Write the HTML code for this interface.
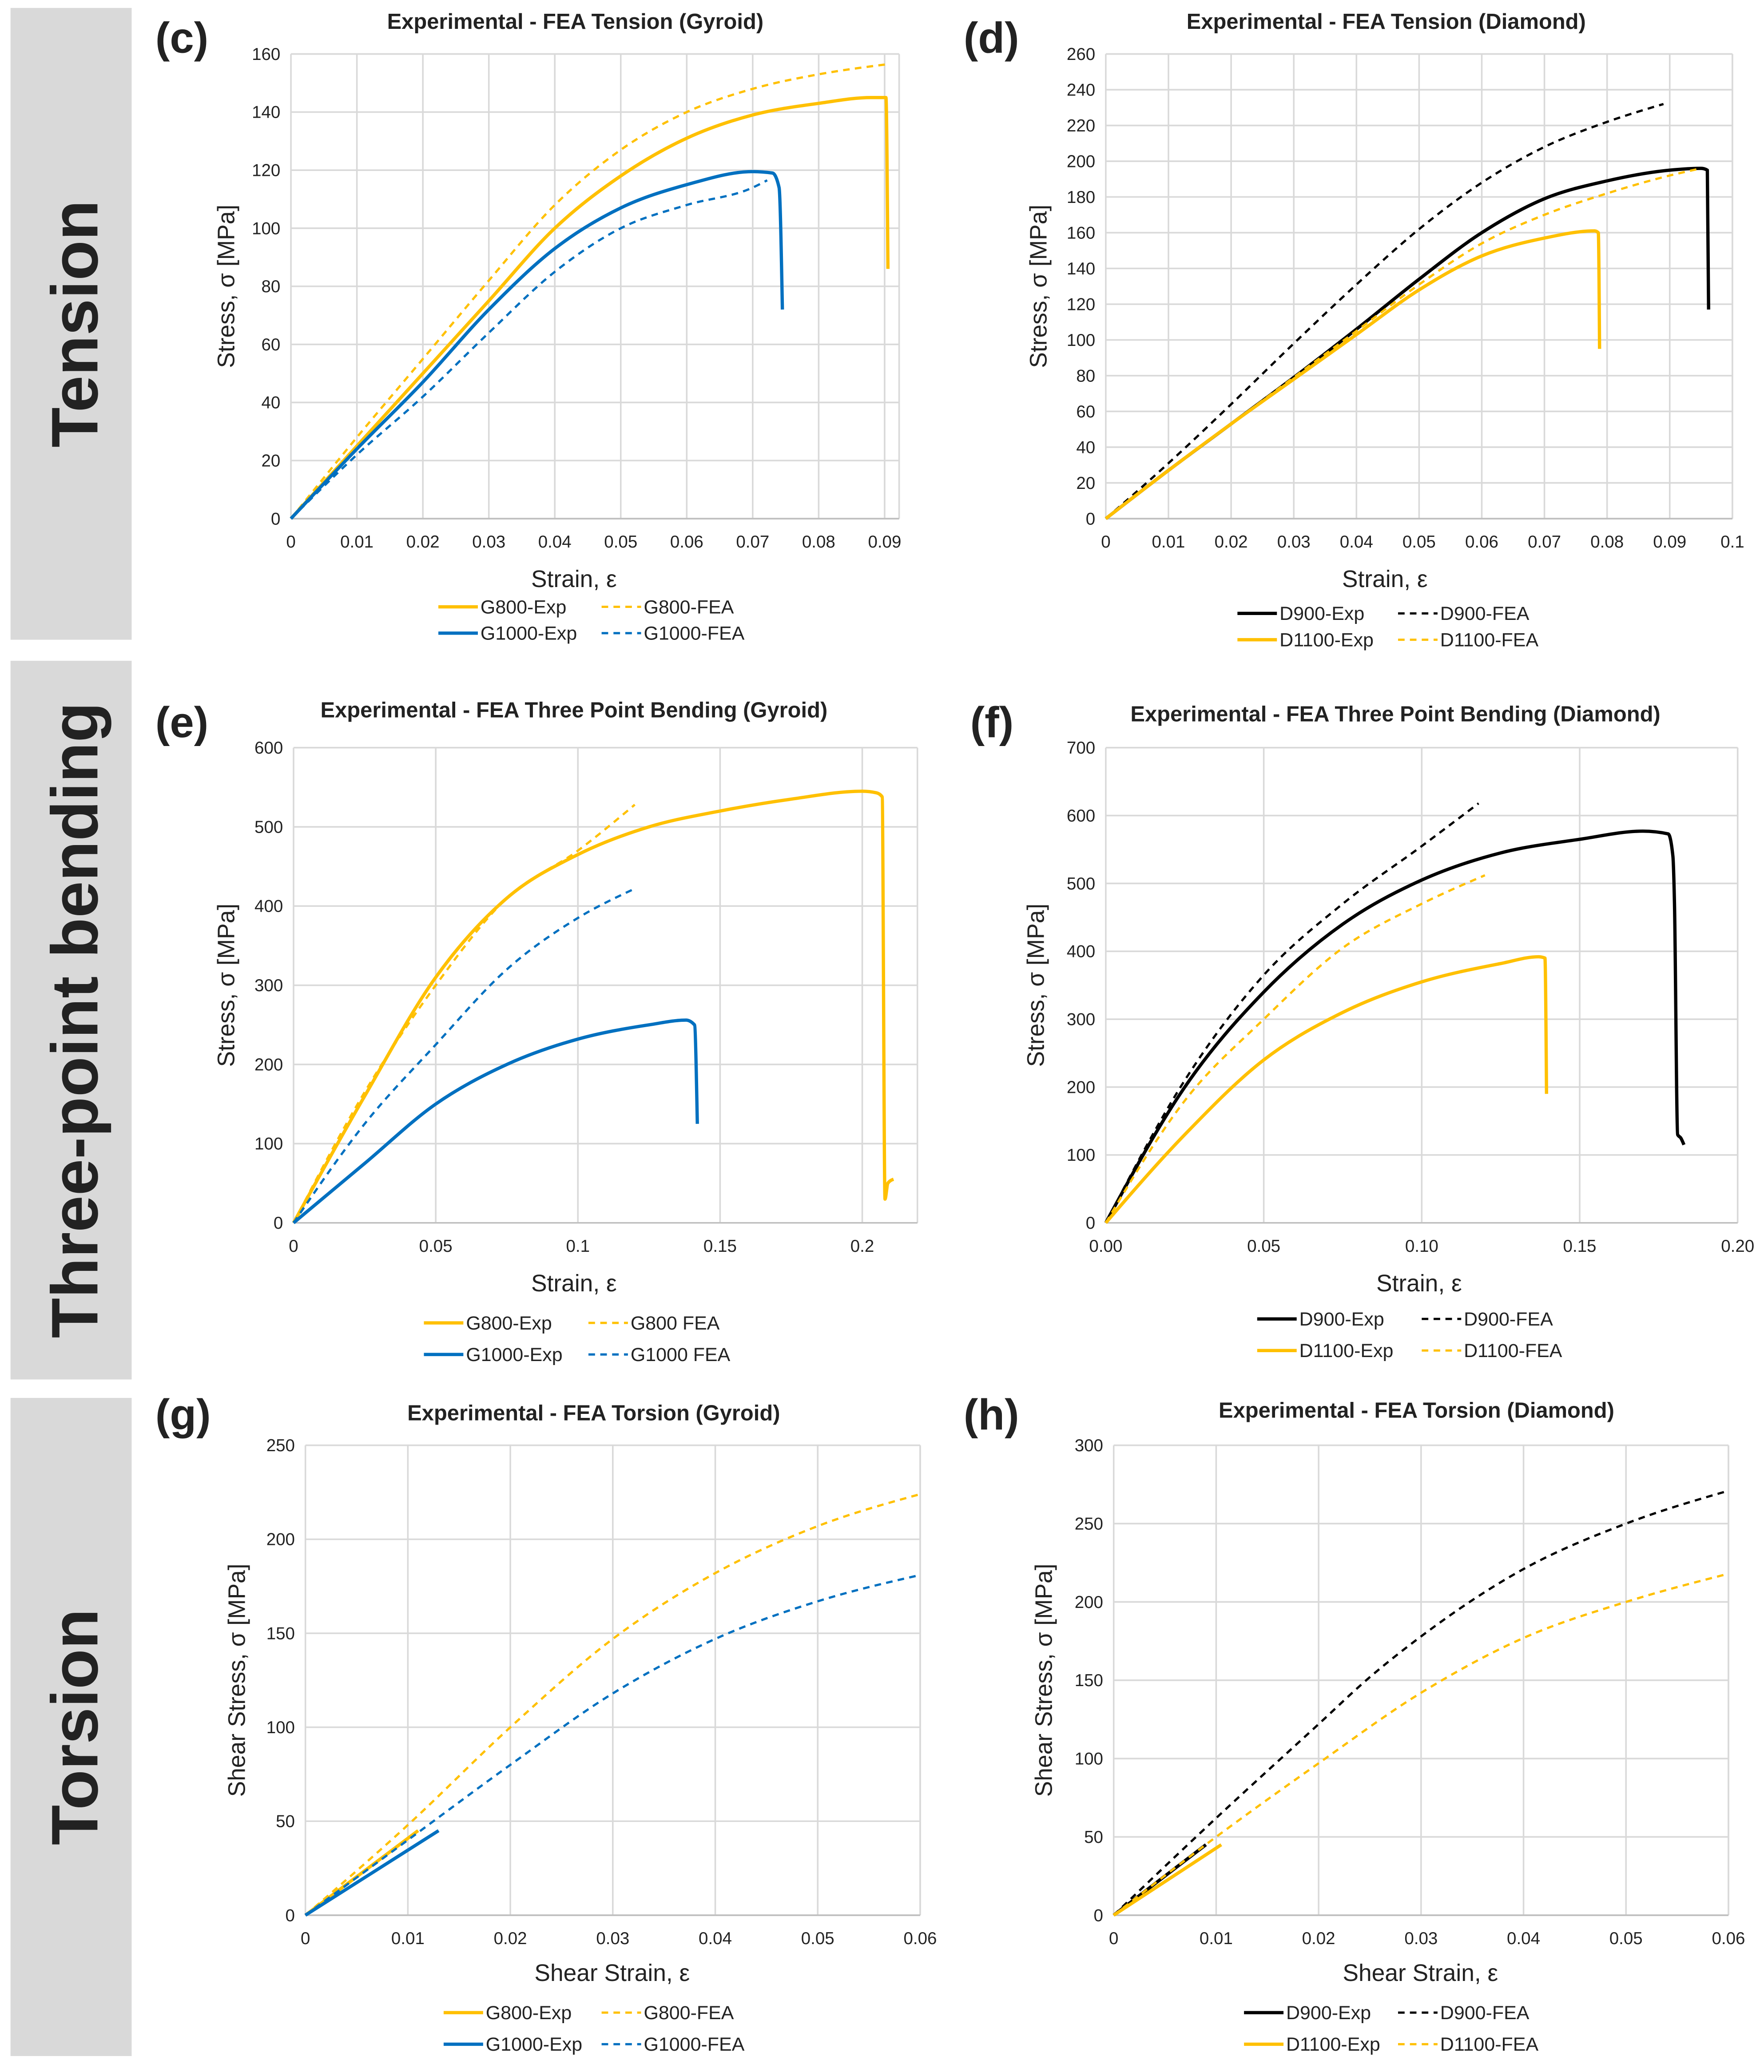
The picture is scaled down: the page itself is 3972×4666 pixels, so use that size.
<!DOCTYPE html>
<html><head><meta charset="utf-8"><style>
html,body{margin:0;padding:0;background:#fff;}
svg{display:block;}
text{font-family:"Liberation Sans Narrow","Liberation Sans",sans-serif;fill:#222;}
</style></head><body>
<svg id="fig" xmlns="http://www.w3.org/2000/svg" width="3972" height="4666" viewBox="0 0 1340 1574.1">
<rect x="0" y="0" width="1340" height="1574.1" fill="#fff"/>
<g>
<rect x="8" y="6" width="92" height="480" fill="#d9d9d9"/>
<text x="0" y="0" transform="translate(74,246) rotate(-90)" text-anchor="middle" font-size="50" font-weight="bold" style="font-family:'Liberation Sans',sans-serif" fill="#000">Tension</text></g>
<g>
<rect x="8" y="502" width="92" height="546" fill="#d9d9d9"/>
<text x="0" y="0" transform="translate(74,775) rotate(-90)" text-anchor="middle" font-size="50" font-weight="bold" style="font-family:'Liberation Sans',sans-serif" fill="#000">Three-point bending</text></g>
<g>
<rect x="8" y="1062" width="92" height="500" fill="#d9d9d9"/>
<text x="0" y="0" transform="translate(74,1312) rotate(-90)" text-anchor="middle" font-size="50" font-weight="bold" style="font-family:'Liberation Sans',sans-serif" fill="#000">Torsion</text></g>
</svg>
<script>
const YEL='#FFC000', BLU='#0070C0', BLK='#000000';
// ---- panel c data
const cXTicks=['0','0.01','0.02','0.03','0.04','0.05','0.06','0.07','0.08','0.09'];
const cYTicks=[0,20,40,60,80,100,120,140,160];
const cG800Exp=[[0,0],[0.01,25],[0.02,50],[0.03,75],[0.04,100],[0.05,118],[0.06,131],[0.07,139],[0.08,143],[0.088,145],[0.0902,145],[0.0905,86]];
const cG800FEA=[[0,0],[0.01,28],[0.02,55],[0.03,82],[0.04,108],[0.05,127],[0.06,140],[0.07,148],[0.08,153],[0.0905,156.5]];
const cG1000Exp=[[0,0],[0.01,24],[0.02,47],[0.03,72],[0.04,93],[0.05,107],[0.06,115],[0.07,119.5],[0.073,119],[0.074,114],[0.0745,72]];
const cG1000FEA=[[0,0],[0.01,22],[0.02,42],[0.03,64],[0.04,85],[0.05,100],[0.06,108],[0.07,114],[0.0722,116.5]];
// ---- panel d data
const dXTicks=['0','0.01','0.02','0.03','0.04','0.05','0.06','0.07','0.08','0.09','0.1'];
const dYTicks=[0,20,40,60,80,100,120,140,160,180,200,220,240,260];
const dD900Exp=[[0,0],[0.01,27],[0.02,53],[0.03,79],[0.04,106],[0.05,134],[0.06,160],[0.07,179],[0.08,189],[0.09,195],[0.095,196],[0.096,195],[0.0962,117]];
const dD900FEA=[[0,0],[0.01,31],[0.02,64],[0.03,98],[0.04,131],[0.05,162],[0.06,188],[0.07,208],[0.08,222],[0.089,232]];
const dD1100Exp=[[0,0],[0.01,27],[0.02,53],[0.03,78],[0.04,103],[0.05,128],[0.06,147],[0.07,157],[0.078,161],[0.0786,160],[0.0788,95]];
const dD1100FEA=[[0,0],[0.02,53],[0.04,105],[0.05,131],[0.06,154],[0.07,170],[0.08,182],[0.09,192],[0.095,196]];
// ---- panel e data
const eXTicks=['0','0.05','0.1','0.15','0.2'];
const eYTicks=[0,100,200,300,400,500,600];
const eG800Exp=[[0,0],[0.025,160],[0.05,310],[0.075,410],[0.1,465],[0.125,500],[0.15,520],[0.175,535],[0.2,545],[0.205,543],[0.207,538],[0.208,30],[0.209,50],[0.211,55]];
const eG800FEA=[[0,0],[0.025,165],[0.05,300],[0.075,410],[0.1,470],[0.12,528]];
const eG1000Exp=[[0,0],[0.025,75],[0.05,150],[0.075,200],[0.1,232],[0.125,250],[0.138,256],[0.141,250],[0.142,125]];
const eG1000FEA=[[0,0],[0.025,125],[0.05,225],[0.075,320],[0.1,385],[0.12,422]];
// ---- panel f data
const fXTicks=['0.00','0.05','0.10','0.15','0.20'];
const fYTicks=[0,100,200,300,400,500,600,700];
const fD900Exp=[[0,0],[0.025,200],[0.05,340],[0.075,440],[0.1,505],[0.125,545],[0.15,565],[0.17,577],[0.178,573],[0.1795,540],[0.18,470],[0.181,130],[0.182,125],[0.183,115]];
const fD900FEA=[[0,0],[0.025,210],[0.05,365],[0.075,470],[0.1,555],[0.118,618]];
const fD1100Exp=[[0,0],[0.025,130],[0.05,240],[0.075,310],[0.1,355],[0.125,382],[0.137,392],[0.139,390],[0.1395,190]];
const fD1100FEA=[[0,0],[0.025,180],[0.05,300],[0.075,405],[0.1,470],[0.12,512]];
// ---- panel g data
const gXTicks=['0','0.01','0.02','0.03','0.04','0.05','0.06'];
const gYTicks=[0,50,100,150,200,250];
const gG800Exp=[[0,0],[0.011,45]];
const gG800FEA=[[0,0],[0.01,48],[0.02,100],[0.03,147],[0.04,182],[0.05,207],[0.06,224]];
const gG1000Exp=[[0,0],[0.013,45]];
const gG1000FEA=[[0,0],[0.01,40],[0.02,80],[0.03,118],[0.04,147],[0.05,167],[0.06,181]];
// ---- panel h data
const hXTicks=['0','0.01','0.02','0.03','0.04','0.05','0.06'];
const hYTicks=[0,50,100,150,200,250,300];
const hD900Exp=[[0,0],[0.009,45]];
const hD900FEA=[[0,0],[0.01,62],[0.02,122],[0.025,152],[0.03,178],[0.04,221],[0.05,250],[0.06,271]];
const hD1100Exp=[[0,0],[0.0105,45]];
const hD1100FEA=[[0,0],[0.01,50],[0.02,97],[0.03,142],[0.04,177],[0.05,200],[0.06,218]];

const NS='http://www.w3.org/2000/svg';
const svg=document.getElementById('fig');
function mk(tag,attrs,parent){const e=document.createElementNS(NS,tag);for(const k in attrs)e.setAttribute(k,attrs[k]);(parent||svg).appendChild(e);return e;}
function txt(s,attrs,parent){const e=mk('text',attrs,parent);e.textContent=s;return e;}

// monotone-X cubic (as in d3.curveMonotoneX) in screen coordinates
function smoothPath(pts,sx,sy){
  const P=pts.map(p=>[sx(p[0]),sy(p[1])]);
  const n=P.length;
  let d='M'+P[0][0].toFixed(2)+','+P[0][1].toFixed(2);
  if(n<3){for(let i=1;i<n;i++)d+=' L'+P[i][0].toFixed(2)+','+P[i][1].toFixed(2);return d;}
  const h=[],s=[];
  for(let i=0;i<n-1;i++){h[i]=P[i+1][0]-P[i][0];s[i]=(P[i+1][1]-P[i][1])/h[i];}
  const sign=v=>v<0?-1:1;
  const t=[];
  for(let i=1;i<n-1;i++){
    const p=(s[i-1]*h[i]+s[i]*h[i-1])/(h[i-1]+h[i]);
    t[i]=(sign(s[i-1])+sign(s[i]))*Math.min(Math.abs(s[i-1]),Math.abs(s[i]),0.5*Math.abs(p))||0;
  }
  t[0]=(3*s[0]-t[1])/2;
  t[n-1]=(3*s[n-2]-t[n-2])/2;
  for(let i=0;i<n-1;i++){
    const k=h[i]/3;
    d+=' C'+(P[i][0]+k).toFixed(2)+','+(P[i][1]+t[i]*k).toFixed(2)+' '+(P[i+1][0]-k).toFixed(2)+','+(P[i+1][1]-t[i+1]*k).toFixed(2)+' '+P[i+1][0].toFixed(2)+','+P[i+1][1].toFixed(2);
  }
  return d;
}

function panel(o){
  const g=mk('g',{});
  
  
  const sx=v=>o.x0+(v-o.xmin)/(o.xmax-o.xmin)*(o.x1-o.x0);
  const sy=v=>o.y0-(v-o.ymin)/(o.ymax-o.ymin)*(o.y0-o.y1);
  const right=sx(o.xright);
  o.yTicks.forEach(v=>{
    const l=mk('line',{x1:o.x0,x2:right,y1:sy(v),y2:sy(v),stroke:'#d9d9d9','stroke-width':1.2},g);
    
    
    const t=txt(String(v),{x:o.x0-8,y:sy(v)+4.5,'text-anchor':'end','font-size':13},g);
    
    
  });
  o.xTicks.forEach(s=>{
    const v=parseFloat(s);
    const l=mk('line',{x1:sx(v),x2:sx(v),y1:sy(o.ymin),y2:sy(o.ymax),stroke:'#d9d9d9','stroke-width':1.2},g);
    
    
    const t=txt(s,{x:sx(v),y:sy(o.ymin)+22,'text-anchor':'middle','font-size':13},g);
    
    
  });
  mk('line',{x1:right,x2:right,y1:sy(o.ymin),y2:sy(o.ymax),stroke:'#d9d9d9','stroke-width':1.2},g);
  mk('line',{x1:o.x0,x2:right,y1:sy(o.ymin),y2:sy(o.ymin),stroke:'#bfbfbf','stroke-width':1.2},g);
  o.series.forEach(s=>{
    const p=mk('path',{d:smoothPath(s.data,sx,sy),fill:'none',stroke:s.color,'stroke-width':s.dash?1.7:2.5,'stroke-linejoin':'round','stroke-dasharray':s.dash?'5,4':'none'},g);
    
    
  });
  const ti=txt(o.title,{x:o.tx,y:o.ty,'text-anchor':'middle','font-size':16.5,'font-weight':'bold'},g);
  
  
  const pl=txt(o.letter,{x:o.lx,y:o.ly,'font-size':33,'font-weight':'bold',fill:'#000',style:"font-family:'Liberation Sans',sans-serif"},g);
  
  
  const yt=txt(o.ylabel,{x:0,y:0,transform:'translate('+o.ylx+','+((sy(o.ymin)+sy(o.ymax))/2)+') rotate(-90)','text-anchor':'middle','font-size':18},g);
  
  
  const xt=txt(o.xlabel,{x:o.xlx,y:o.xly,'text-anchor':'middle','font-size':18},g);
  
  
  o.series.forEach((s,i)=>{
    const col=o.legendOrder[i][0], row=o.legendOrder[i][1];
    const lx=o.legX[col], ly=o.legY[row];
    const lg=mk('g',{},g);
    
    
    mk('line',{x1:lx,x2:lx+30,y1:ly-5,y2:ly-5,stroke:s.color,'stroke-width':s.dash?1.7:2.5,'stroke-dasharray':s.dash?'5,4':'none'},lg);
    txt(s.label,{x:lx+32,y:ly,'font-size':14.5},lg);
  });
}
const LO=[[0,0],[1,0],[0,1],[1,1]];
panel({name:'chart-c-tension-gyroid',letter:'(c)',lx:118,ly:40,title:'Experimental - FEA Tension (Gyroid)',tx:437,ty:22,
  x0:221,x1:672,xmin:0,xmax:0.09,xright:0.0922,y0:394,y1:41,ymin:0,ymax:160,xTicks:cXTicks,yTicks:cYTicks,
  ylabel:'Stress, σ [MPa]',ylx:178,xlabel:'Strain, ε',xlx:436,xly:446,legX:[333,457],legY:[466,486],legendOrder:LO,
  series:[{label:'G800-Exp',data:cG800Exp,color:YEL},{label:'G800-FEA',data:cG800FEA,color:YEL,dash:1},
          {label:'G1000-Exp',data:cG1000Exp,color:BLU},{label:'G1000-FEA',data:cG1000FEA,color:BLU,dash:1}]});
panel({name:'chart-d-tension-diamond',letter:'(d)',lx:732,ly:40,title:'Experimental - FEA Tension (Diamond)',tx:1053,ty:22,
  x0:840,x1:1316,xmin:0,xmax:0.1,xright:0.1,y0:394,y1:41,ymin:0,ymax:260,xTicks:dXTicks,yTicks:dYTicks,
  ylabel:'Stress, σ [MPa]',ylx:795,xlabel:'Strain, ε',xlx:1052,xly:446,legX:[940,1062],legY:[471,491],legendOrder:LO,
  series:[{label:'D900-Exp',data:dD900Exp,color:BLK},{label:'D900-FEA',data:dD900FEA,color:BLK,dash:1},
          {label:'D1100-Exp',data:dD1100Exp,color:YEL},{label:'D1100-FEA',data:dD1100FEA,color:YEL,dash:1}]});
panel({name:'chart-e-bending-gyroid',letter:'(e)',lx:118,ly:560,title:'Experimental - FEA Three Point Bending (Gyroid)',tx:436,ty:545,
  x0:223,x1:655,xmin:0,xmax:0.2,xright:0.2194,y0:929,y1:568,ymin:0,ymax:600,xTicks:eXTicks,yTicks:eYTicks,
  ylabel:'Stress, σ [MPa]',ylx:178,xlabel:'Strain, ε',xlx:436,xly:981,legX:[322,447],legY:[1010,1034],legendOrder:LO,
  series:[{label:'G800-Exp',data:eG800Exp,color:YEL},{label:'G800 FEA',data:eG800FEA,color:YEL,dash:1},
          {label:'G1000-Exp',data:eG1000Exp,color:BLU},{label:'G1000 FEA',data:eG1000FEA,color:BLU,dash:1}]});
panel({name:'chart-f-bending-diamond',letter:'(f)',lx:737,ly:560,title:'Experimental - FEA Three Point Bending (Diamond)',tx:1060,ty:548,
  x0:840,x1:1320,xmin:0,xmax:0.2,xright:0.2,y0:929,y1:568,ymin:0,ymax:700,xTicks:fXTicks,yTicks:fYTicks,
  ylabel:'Stress, σ [MPa]',ylx:793,xlabel:'Strain, ε',xlx:1078,xly:981,legX:[955,1080],legY:[1007,1031],legendOrder:LO,
  series:[{label:'D900-Exp',data:fD900Exp,color:BLK},{label:'D900-FEA',data:fD900FEA,color:BLK,dash:1},
          {label:'D1100-Exp',data:fD1100Exp,color:YEL},{label:'D1100-FEA',data:fD1100FEA,color:YEL,dash:1}]});
panel({name:'chart-g-torsion-gyroid',letter:'(g)',lx:118,ly:1086,title:'Experimental - FEA Torsion (Gyroid)',tx:451,ty:1079,
  x0:232,x1:699,xmin:0,xmax:0.06,xright:0.06,y0:1455,y1:1098,ymin:0,ymax:250,xTicks:gXTicks,yTicks:gYTicks,
  ylabel:'Shear Stress, σ [MPa]',ylx:186,xlabel:'Shear Strain, ε',xlx:465,xly:1505,legX:[337,457],legY:[1534,1558],legendOrder:LO,
  series:[{label:'G800-Exp',data:gG800Exp,color:YEL},{label:'G800-FEA',data:gG800FEA,color:YEL,dash:1},
          {label:'G1000-Exp',data:gG1000Exp,color:BLU},{label:'G1000-FEA',data:gG1000FEA,color:BLU,dash:1}]});
panel({name:'chart-h-torsion-diamond',letter:'(h)',lx:732,ly:1086,title:'Experimental - FEA Torsion (Diamond)',tx:1076,ty:1077,
  x0:846,x1:1313,xmin:0,xmax:0.06,xright:0.06,y0:1455,y1:1098,ymin:0,ymax:300,xTicks:hXTicks,yTicks:hYTicks,
  ylabel:'Shear Stress, σ [MPa]',ylx:799,xlabel:'Shear Strain, ε',xlx:1079,xly:1505,legX:[945,1062],legY:[1534,1558],legendOrder:LO,
  series:[{label:'D900-Exp',data:hD900Exp,color:BLK},{label:'D900-FEA',data:hD900FEA,color:BLK,dash:1},
          {label:'D1100-Exp',data:hD1100Exp,color:YEL},{label:'D1100-FEA',data:hD1100FEA,color:YEL,dash:1}]});
</script>
</body></html>
